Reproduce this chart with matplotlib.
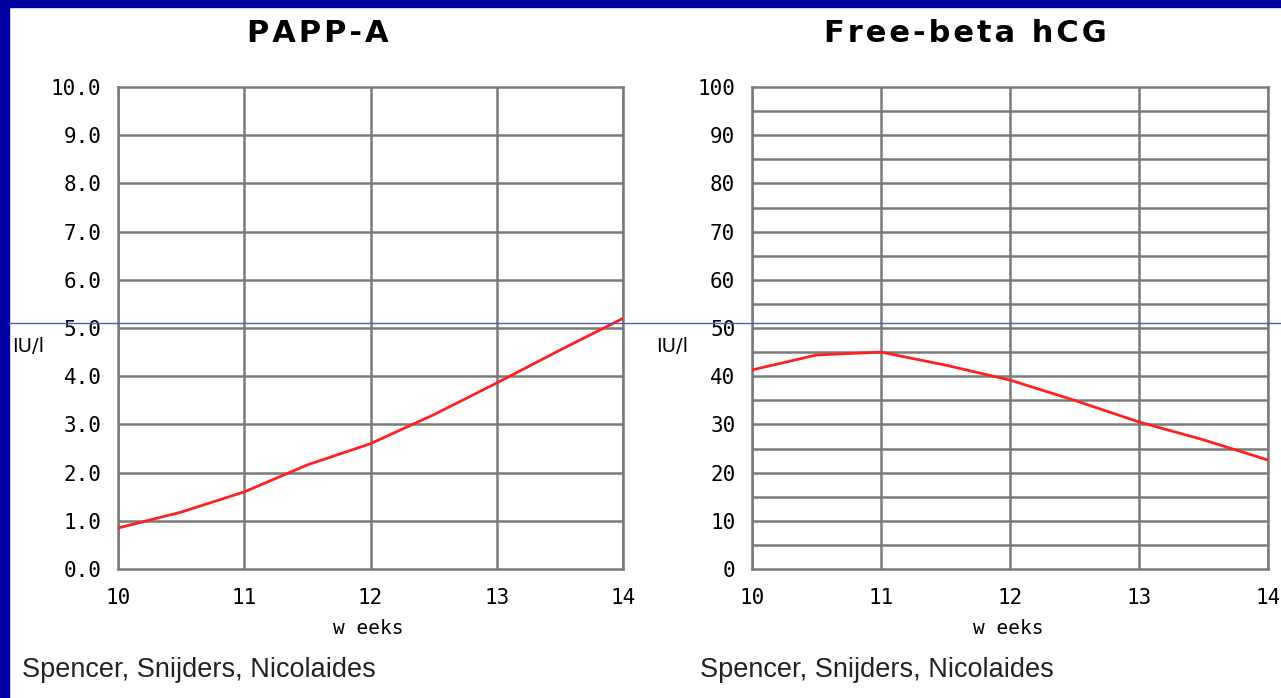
import matplotlib.pyplot as plt
from matplotlib.lines import Line2D

# values
weeks = [10, 10.5, 11, 11.5, 12, 12.5, 13, 13.5, 14]
papp_a = [0.85, 1.18, 1.6, 2.16, 2.6, 3.2, 3.86, 4.54, 5.2]
free_beta = [41.3, 44.4, 45.0, 42.3, 39.2, 35.0, 30.5, 26.8, 22.6]

week_ticks = [10, 11, 12, 13, 14]
papp_ticks = [0, 1, 2, 3, 4, 5, 6, 7, 8, 9, 10]
hcg_ticks = [0, 10, 20, 30, 40, 50, 60, 70, 80, 90, 100]
hcg_grid = [5, 10, 15, 20, 25, 30, 35, 40, 45, 50, 55, 60, 65, 70, 75, 80, 85, 90, 95]

HS = '\u200a'  # hair space, to spread the title letters


def spaced(s):
    return HS.join(s)


fig = plt.figure(figsize=(12.81, 6.98), dpi=100)
fig.patch.set_facecolor('white')

# dark blue frame on top and left
fig.add_artist(plt.Rectangle((0, 1 - 7 / 698), 1, 7 / 698, color='#0000a0',
                             transform=fig.transFigure, zorder=0))
fig.add_artist(plt.Rectangle((0, 0), 9 / 1281, 1, color='#0000a0',
                             transform=fig.transFigure, zorder=0))

tick_font = dict(family='DejaVu Sans Mono', size=15)
grid_col = '#7a7a7a'


def setup(ax, yticks, ylabels, ygrid):
    ax.set_xlim(10, 14)
    ax.set_ylim(yticks[0], yticks[-1])
    ax.set_xticks(week_ticks)
    ax.set_xticklabels([str(w) for w in week_ticks], **tick_font)
    ax.set_yticks(yticks)
    ax.set_yticklabels(ylabels, **tick_font)
    ax.tick_params(length=0, pad=12)
    ax.tick_params(axis='x', pad=14)
    for w in week_ticks:
        ax.axvline(w, color=grid_col, lw=1.8, zorder=1)
    for g in ygrid:
        ax.axhline(g, color=grid_col, lw=1.8, zorder=1)
    for s in ax.spines.values():
        s.set_color(grid_col)
        s.set_linewidth(1.8)


ax1 = fig.add_axes([118 / 1281, 1 - 569 / 698, 505 / 1281, 482 / 698])
setup(ax1, papp_ticks, ['%.1f' % t for t in papp_ticks], papp_ticks[1:-1])
ax1.plot(weeks, papp_a, color='#ff2020', lw=2, zorder=3)

ax2 = fig.add_axes([752 / 1281, 1 - 569 / 698, 516 / 1281, 482 / 698])
setup(ax2, hcg_ticks, [str(t) for t in hcg_ticks], hcg_grid)
ax2.plot(weeks, free_beta, color='#ff2020', lw=2, zorder=3)

# titles sit a bit left of the plot centres
fig.text(318 / 1281, 1 - 34 / 698, spaced('PAPP-A'), fontsize=22,
         fontweight='bold', ha='center', va='center')
fig.text(965 / 1281, 1 - 34 / 698, spaced('Free-beta hCG'), fontsize=22,
         fontweight='bold', ha='center', va='center')

# unit and axis labels
fig.text(12 / 1281, 1 - 347 / 698, 'IU/l', fontsize=14, va='center', ha='left')
fig.text(656 / 1281, 1 - 347 / 698, 'IU/l', fontsize=14, va='center', ha='left')
fig.text(368 / 1281, 1 - 628 / 698, 'w eeks', fontsize=14,
         va='center', ha='center', family='DejaVu Sans Mono')
fig.text(1008 / 1281, 1 - 628 / 698, 'w eeks', fontsize=14,
         va='center', ha='center', family='DejaVu Sans Mono')
fig.text(22 / 1281, 1 - 670 / 698, 'Spencer, Snijders, Nicolaides',
         fontsize=19.5, va='center', ha='left', family='Liberation Sans',
         color='#222222')
fig.text(700 / 1281, 1 - 670 / 698, 'Spencer, Snijders, Nicolaides',
         fontsize=19.5, va='center', ha='left', family='Liberation Sans',
         color='#222222')

# thin blue line across the whole slide
fig.add_artist(Line2D([9 / 1281, 1], [1 - 323 / 698, 1 - 323 / 698],
                      color='#4a5ac8', lw=1, transform=fig.transFigure,
                      zorder=10))

fig.savefig('out.png', dpi=100)
